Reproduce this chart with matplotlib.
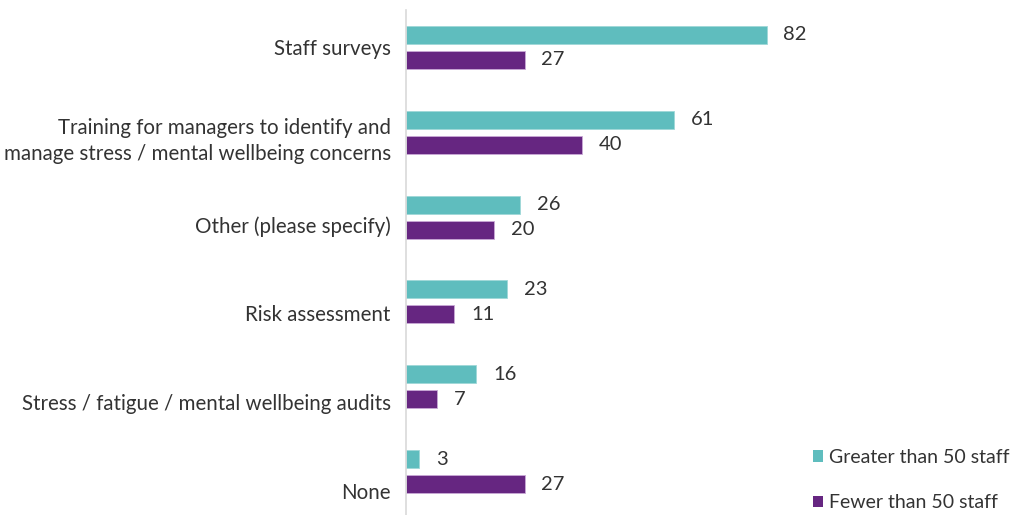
import matplotlib.pyplot as plt
import numpy as np

categories = [
    "Staff surveys",
    "Training for managers to identify and\nmanage stress / mental wellbeing concerns",
    "Other (please specify)",
    "Risk assessment",
    "Stress / fatigue / mental wellbeing audits",
    "None",
]
greater_than_50 = [82, 61, 26, 23, 16, 3]
fewer_than_50 = [27, 40, 20, 11, 7, 27]
series_names = ["Greater than 50 staff", "Fewer than 50 staff"]

TEAL = "#5FBDBE"
PURPLE = "#662681"
TEXT = "#333333"

plt.rcParams["font.family"] = ["Lato", "DejaVu Sans"]

fig = plt.figure(figsize=(10.29, 5.15), dpi=100)
W, H = 1029, 515
ax = fig.add_axes([406 / W, 0, 394 / W, 505 / H])

y = np.arange(len(categories))
bar_h = 0.212
off = 0.147

b1 = ax.barh(y - off, greater_than_50, height=bar_h, color=TEAL,
             edgecolor="#9fd8d8", linewidth=0.6)
b2 = ax.barh(y + off, fewer_than_50, height=bar_h, color=PURPLE,
             edgecolor="#c9a9d6", linewidth=0.6)

for bars, vals in ((b1, greater_than_50), (b2, fewer_than_50)):
    for rect, v in zip(bars, vals):
        ax.annotate(str(v), (v, rect.get_y() + rect.get_height() / 2),
                    xytext=(12, 0), textcoords="offset points",
                    ha="left", va="center", fontsize=14.5, color=TEXT)

ax.set_xlim(0, 394 / 4.40)
ax.set_ylim(len(categories) - 1 + 0.51, -0.44)

# category labels sit on a slightly wider pitch than the bar groups
ax.set_yticks(y * 1.045)
ax.set_yticklabels(categories, fontsize=14.8, color=TEXT, linespacing=1.35)
ax.tick_params(axis="y", length=0, pad=11)
ax.set_xticks([])

for s in ("top", "right", "bottom"):
    ax.spines[s].set_visible(False)
ax.spines["left"].set_color("#d9d9d9")
ax.spines["left"].set_linewidth(1.2)

leg = fig.legend([b1, b2], series_names, loc="lower left",
                 bbox_to_anchor=(803 / W, -6 / H), frameon=False,
                 fontsize=14, labelcolor=TEXT, handlelength=0.55,
                 handleheight=0.55, handletextpad=0.3, labelspacing=1.45,
                 borderpad=0)
for h in leg.legend_handles:
    h.set_linewidth(0)

fig.savefig("out.png", dpi=100)
